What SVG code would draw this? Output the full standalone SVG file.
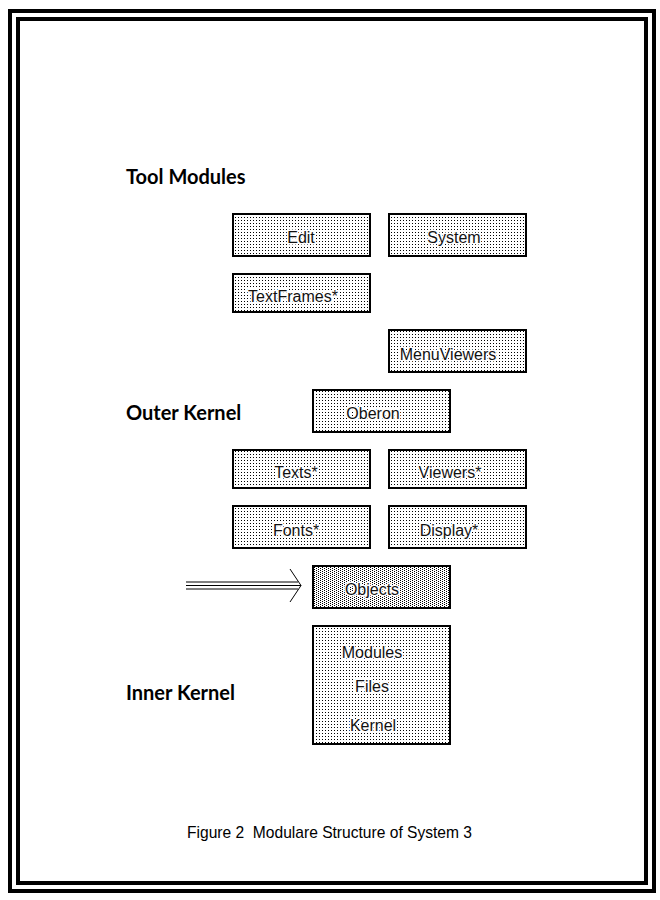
<svg xmlns="http://www.w3.org/2000/svg" width="660" height="900" viewBox="0 0 660 900">
<defs>
<pattern id="dots" width="3" height="3" patternUnits="userSpaceOnUse"><rect x="1" y="1" width="1" height="1" fill="#000"/></pattern>
<pattern id="dense" width="4" height="2" patternUnits="userSpaceOnUse"><rect x="0" y="0" width="1" height="1" fill="#000"/><rect x="2" y="1" width="1" height="1" fill="#000"/></pattern>
<style>
.box{fill:url(#dots);stroke:#000;stroke-width:2;shape-rendering:crispEdges}
.dense{fill:url(#dense)}
.lbl{font-family:"Liberation Sans",Arial,sans-serif;font-size:16px;fill:#111;stroke:#fff;stroke-width:3;paint-order:stroke;stroke-linejoin:round;text-anchor:middle}
.head{font-family:Lato,"Open Sans",sans-serif;font-weight:bold;font-size:20px;fill:#000}
.cap{font-family:"Liberation Sans",Arial,sans-serif;font-size:17px;fill:#000}
.frame{fill:none;stroke:#000;stroke-width:4;shape-rendering:crispEdges}
</style>
</defs>
<rect width="660" height="900" fill="#fff"/>
<rect class="frame" x="10" y="11" width="644" height="880"/>
<rect class="frame" x="18" y="19" width="628" height="864"/>

<text class="head" x="126" y="184">Tool Modules</text>
<text class="head" x="126" y="420">Outer Kernel</text>
<text class="head" x="126" y="700">Inner Kernel</text>

<g id="edit"><rect class="box" x="233" y="214" width="137" height="42"/><text class="lbl" x="301" y="243">Edit</text></g>
<g id="system"><rect class="box" x="389" y="214" width="137" height="42"/><text class="lbl" x="454" y="243">System</text></g>
<g id="textframes"><rect class="box" x="233" y="274" width="137" height="38"/><text class="lbl" x="293" y="302">TextFrames*</text></g>
<g id="menuviewers"><rect class="box" x="389" y="330" width="137" height="42"/><text class="lbl" x="448" y="360">MenuViewers</text></g>
<g id="oberon"><rect class="box" x="313" y="390" width="137" height="42"/><text class="lbl" x="373" y="419">Oberon</text></g>
<g id="texts"><rect class="box" x="233" y="450" width="137" height="38"/><text class="lbl" x="296" y="478">Texts*</text></g>
<g id="viewers"><rect class="box" x="389" y="450" width="137" height="38"/><text class="lbl" x="450" y="478">Viewers*</text></g>
<g id="fonts"><rect class="box" x="233" y="506" width="137" height="42"/><text class="lbl" x="296" y="536">Fonts*</text></g>
<g id="display"><rect class="box" x="389" y="506" width="137" height="42"/><text class="lbl" x="449" y="536">Display*</text></g>
<g id="objects"><rect class="box dense" x="313" y="566" width="137" height="42"/><text class="lbl" x="372" y="595">Objects</text></g>
<g id="inner"><rect class="box" x="313" y="626" width="137" height="118"/><text class="lbl" x="372" y="658">Modules</text><text class="lbl" x="372" y="692">Files</text><text class="lbl" x="373" y="731">Kernel</text></g>

<g id="connectors" fill="none" stroke="#000" stroke-width="1">
<line x1="186" y1="582" x2="298" y2="582"/>
<line x1="186" y1="585.5" x2="301" y2="585.5"/>
<line x1="186" y1="589" x2="298" y2="589"/>
<polyline points="290,569 301,585.5 290,602"/>
</g>

<text class="cap" x="187" y="838" textLength="285" lengthAdjust="spacingAndGlyphs" xml:space="preserve">Figure 2  Modulare Structure of System 3</text>
</svg>
